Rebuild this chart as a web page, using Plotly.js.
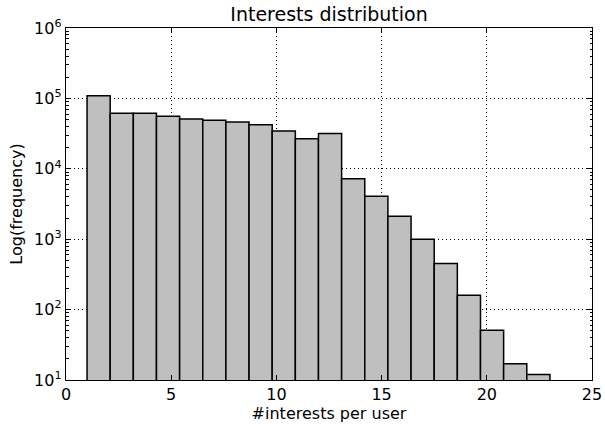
<!DOCTYPE html>
<html>
<head>
<meta charset="utf-8">
<script src="https://cdn.plot.ly/plotly-3.0.1.min.js"></script>
<style>html,body{margin:0;padding:0;background:#fff;}#chart{width:605px;height:424px;}</style>
</head>
<body>
<div id="chart"></div>
<script>
const binStart = 1;
const binWidth = 1.1;
const frequencies = [109000, 61400, 61400, 55700, 50900, 48900, 46200, 42400, 34500, 26800, 31600, 7230, 4070, 2110, 1000, 450, 160, 51, 17, 12];
const yTickVals = [10, 100, 1000, 10000, 100000, 1000000];
const yTickText = ['10<sup>1</sup>', '10<sup>2</sup>', '10<sup>3</sup>', '10<sup>4</sup>', '10<sup>5</sup>', '10<sup>6</sup>'];
const xTickVals = [0, 5, 10, 15, 20, 25];

const centers = frequencies.map((_, i) => binStart + binWidth * (i + 0.5));

const minorVals = [];
for (let d = 1; d < 6; d++) for (let k = 2; k <= 9; k++) minorVals.push(k * Math.pow(10, d));

const font = {family: 'DejaVu Sans', color: '#000'};
Plotly.newPlot('chart', [{
  type: 'bar',
  x: centers,
  y: frequencies,
  width: frequencies.map(() => binWidth),
  marker: {color: '#bfbfbf', line: {color: '#000', width: 1.5}},
  hoverinfo: 'x+y'
}], {
  width: 605, height: 424,
  margin: {l: 66, r: 13, t: 28, b: 44},
  paper_bgcolor: '#fff', plot_bgcolor: '#fff',
  showlegend: false,
  font: Object.assign({size: 16}, font),
  title: {text: 'Interests distribution', font: Object.assign({size: 19}, font), x: 0.5, xref: 'paper', y: 1, yref: 'paper', yanchor: 'bottom', pad: {b: 7}},
  xaxis: {
    range: [0, 25], tickvals: xTickVals, ticks: 'inside', ticklen: 5, tickcolor: '#000',
    showline: true, linecolor: '#000', linewidth: 1.2, mirror: 'allticks',
    showgrid: true, gridcolor: '#000', gridwidth: 1, griddash: '1px,3px',
    zeroline: false, tickfont: Object.assign({size: 16}, font),
    title: {text: '#interests per user', font: Object.assign({size: 16}, font), standoff: 3}
  },
  yaxis: {
    type: 'log', range: [1, 6], tickvals: yTickVals, ticktext: yTickText,
    ticks: 'inside', ticklen: 5, tickcolor: '#000',
    showline: true, linecolor: '#000', linewidth: 1.2, mirror: 'allticks',
    showgrid: true, gridcolor: '#000', gridwidth: 1, griddash: '1px,3px',
    zeroline: false, tickfont: Object.assign({size: 16}, font),
    minor: {tickvals: minorVals, ticks: 'inside', ticklen: 2.5, tickcolor: '#000', showgrid: false},
    title: {text: 'Log(frequency)', font: Object.assign({size: 16}, font), standoff: 7}
  },
  bargap: 0
}, {displayModeBar: false, staticPlot: true});
</script>
</body>
</html>
